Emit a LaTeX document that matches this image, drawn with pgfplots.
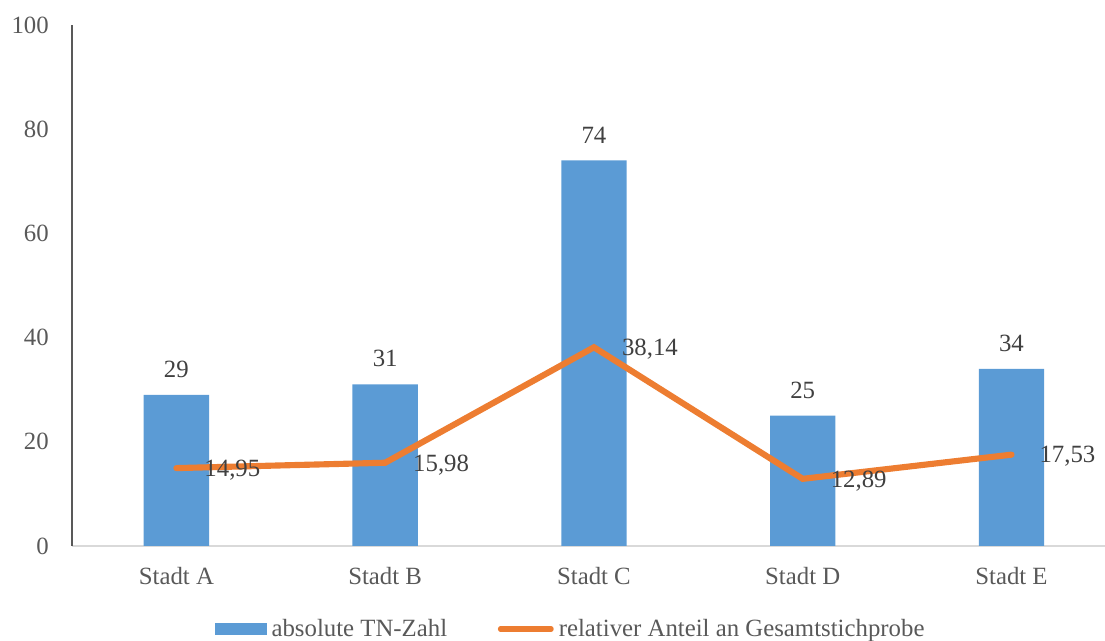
\documentclass[border=0pt]{standalone}
\usepackage{fontspec}
\setmainfont{Liberation Serif}
\usepackage{pgfplots}
\pgfplotsset{compat=1.18}
\definecolor{barblue}{HTML}{5B9BD5}
\definecolor{lineorange}{HTML}{ED7D31}
\definecolor{axisgray}{HTML}{595959}
\definecolor{txtgray}{HTML}{595959}
\definecolor{lblgray}{HTML}{404040}
\definecolor{lightgray}{HTML}{D9D9D9}
\newcommand{\cf}{\fontsize{18.6}{22}\selectfont}
\begin{document}
\begin{tikzpicture}
\useasboundingbox (-54pt,-71.25pt) rectangle (774.75pt,409.5pt);
\begin{axis}[
  at={(0,0)}, anchor=south west,
  scale only axis, width=774.75pt, height=390.75pt,
  xmin=-0.5, xmax=4.448, ymin=0, ymax=100,
  axis x line*=bottom, axis y line*=left,
  every outer x axis line/.append style={-, draw=lightgray, line width=1.5pt},
  every outer y axis line/.append style={-, draw=axisgray, line width=1.5pt},
  xtick={0,1,2,3,4},
  xticklabels={Stadt A,Stadt B,Stadt C,Stadt D,Stadt E},
  ytick={0,20,40,60,80,100},
  major tick length=0pt,
  /pgf/number format/assume math mode=true,
  tick label style={font=\cf, text=txtgray, inner sep=0pt},
  xticklabel style={anchor=north, yshift=-15.5pt},
  yticklabel style={anchor=east, xshift=-17.25pt},
  legend columns=2,
  legend style={at={(0.4816,-0.1593)}, anchor=center, draw=none, fill=none,
    font=\cf, text=txtgray, nodes={inner sep=0pt},
    /tikz/every odd column/.append style={column sep=3.8pt},
    /tikz/every even column/.append style={column sep=38pt}},
  clip=false,
]
\addplot[ybar, bar width=49pt, fill=barblue, draw=none,
  nodes near coords,
  every node near coord/.append style={anchor=south, inner sep=0pt, yshift=12.75pt, font=\cf, text=lblgray},
  legend image code/.code={\fill[barblue] (0pt,-4.5pt) rectangle (39pt,4.5pt);}]
  coordinates {(0,29) (1,31) (2,74) (3,25) (4,34)};
\addlegendentry{absolute TN-Zahl}
\addplot[draw=lineorange, line width=4.6pt, mark=none, line cap=round,
  nodes near coords={\pgfmathprintnumber[fixed,precision=2,fixed zerofill,use comma,assume math mode=true]{\pgfplotspointmeta}},
  every node near coord/.append style={anchor=base west, inner sep=0pt, xshift=18.75pt, yshift=-6.2pt, font=\cf, text=lblgray},
  legend image code/.code={\draw[lineorange, line width=3.8pt, line cap=round] (1.9pt,0pt) -- (40pt,0pt);}]
  coordinates {(0,14.95) (1,15.98) (2,38.14) (3,12.89) (4,17.53)};
\addlegendentry{relativer Anteil an Gesamtstichprobe}
\end{axis}
\end{tikzpicture}
\end{document}
